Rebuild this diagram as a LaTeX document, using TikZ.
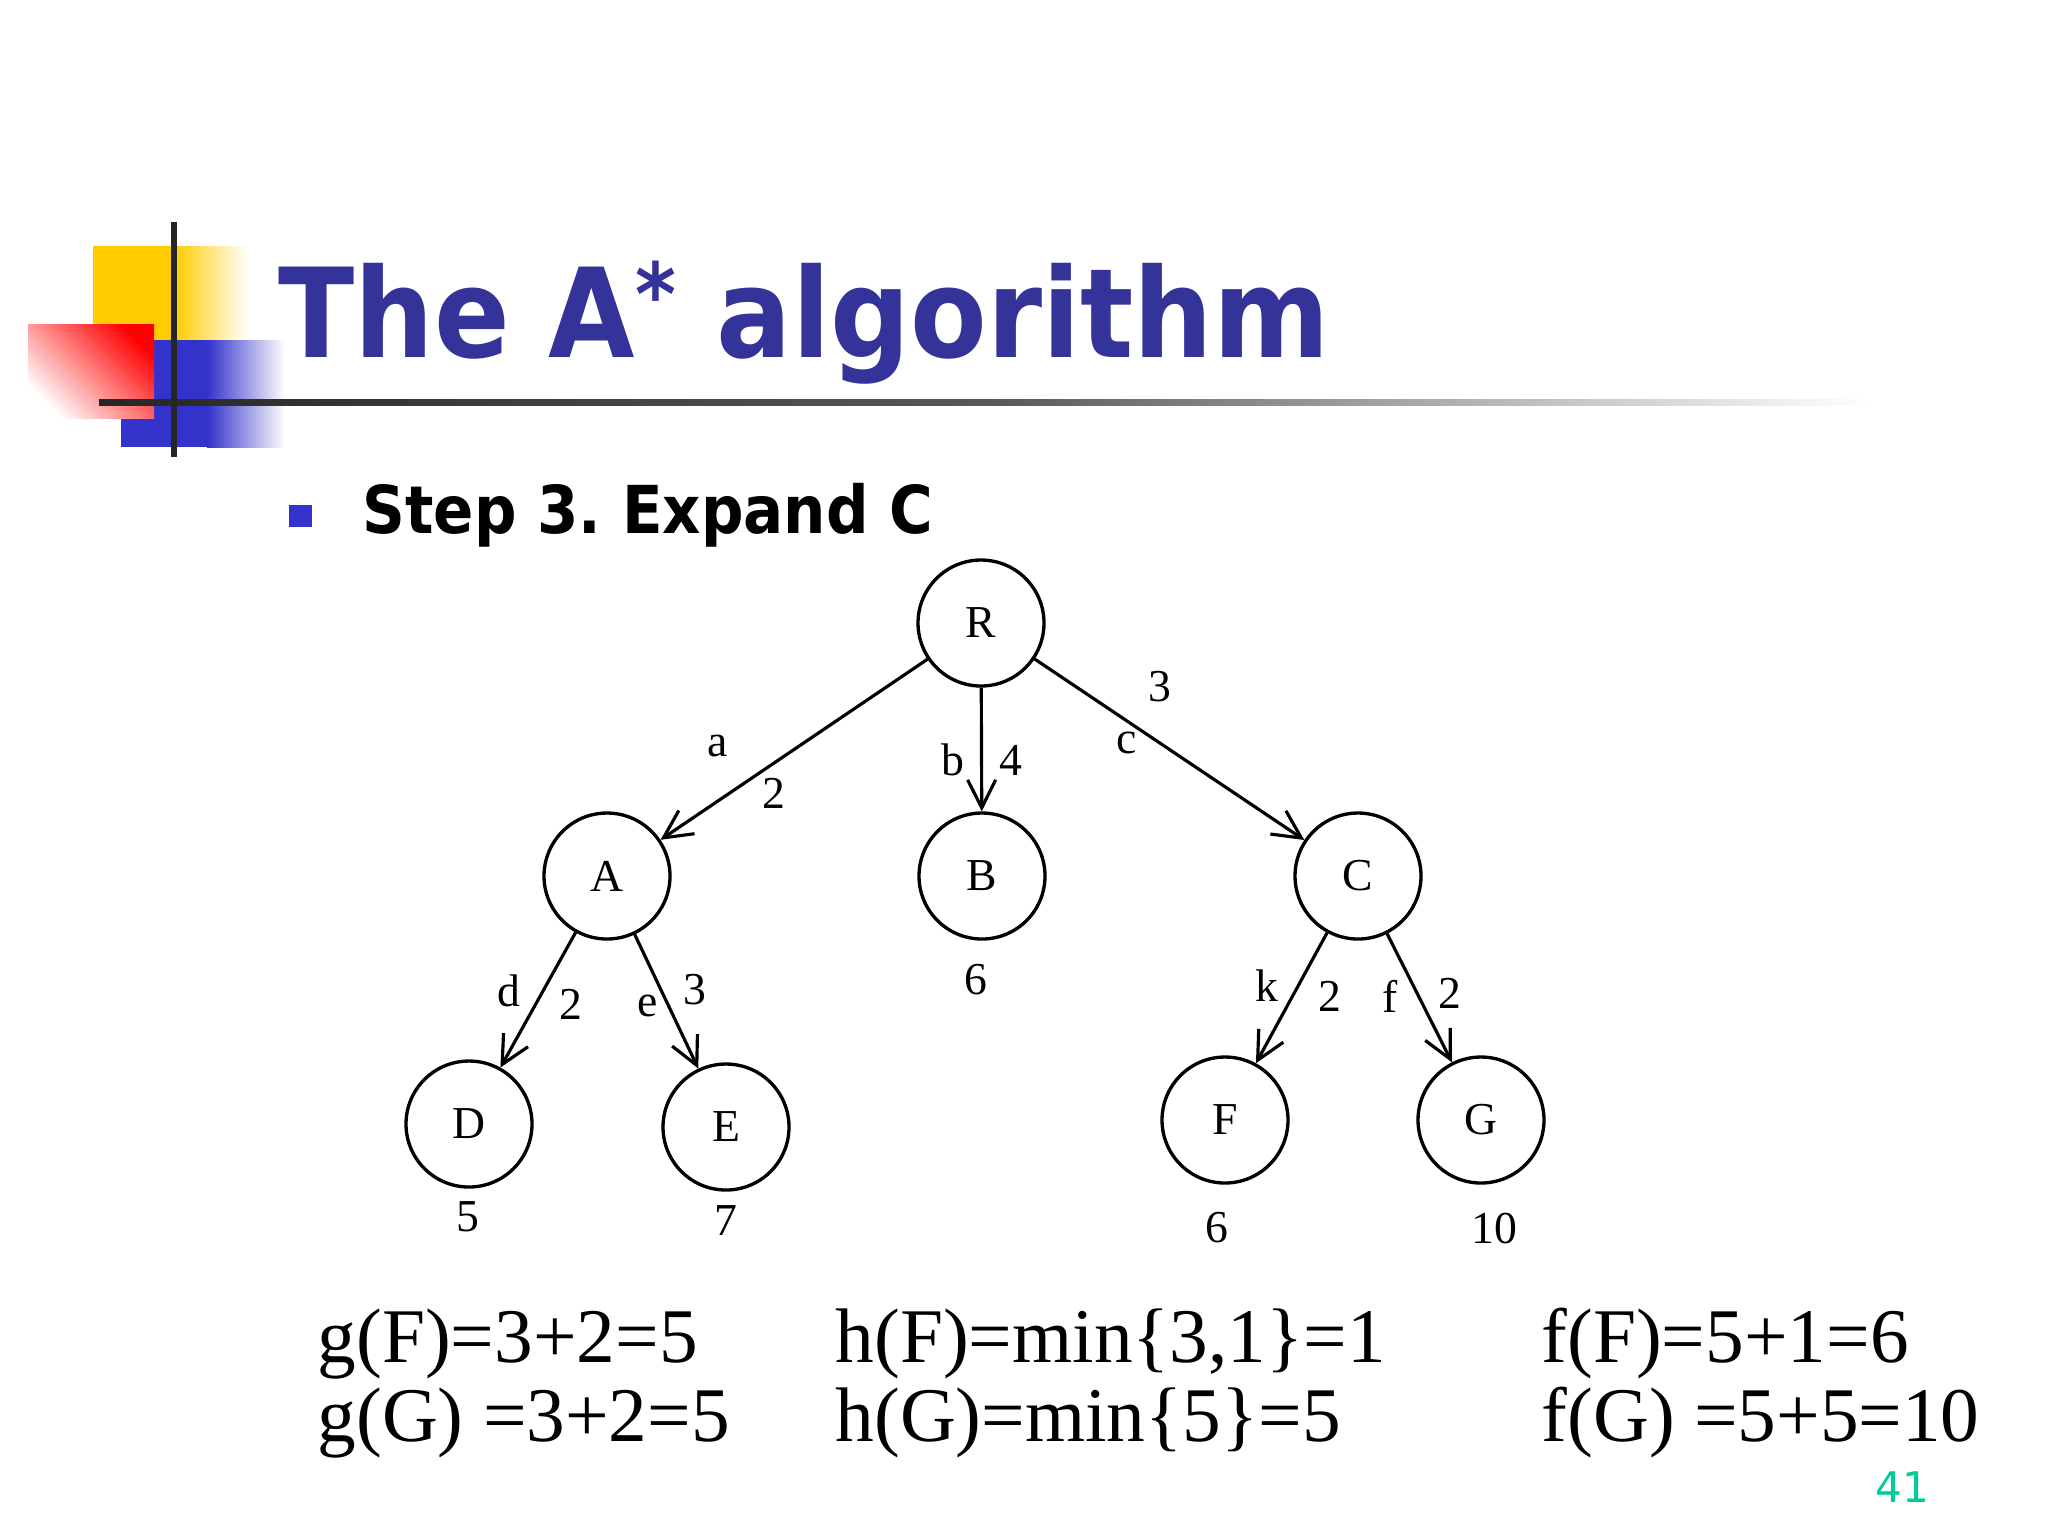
\documentclass[tikz,border=0pt]{standalone}
\usepackage{fontspec}
\setmainfont{Liberation Serif}
\newfontfamily\headfont[FakeStretch=0.9]{DejaVu Sans}
\newfontfamily\pagefont{DejaVu Sans}
\usetikzlibrary{arrows.meta}
\definecolor{titleblue}{RGB}{51, 51, 153}
\definecolor{logoblue}{RGB}{51, 51, 204}
\definecolor{logoyellow}{RGB}{255, 204, 0}
\definecolor{pagegreen}{RGB}{0, 204, 153}
\frenchspacing

\begin{document}
\begin{tikzpicture}[x=0.1mm, y=-0.1mm,
  state/.style={draw, circle, line width=0.95pt, minimum size=12.6mm, inner sep=0pt, font=\fontsize{13}{15}\selectfont},
  link/.style={line width=0.9pt, -{Straight Barb[length=2.8mm, width=2.8mm]}},
  lbl/.style={inner sep=0pt, font=\fontsize{13}{15}\selectfont},
  calc/.style={anchor=base west, inner sep=0pt, font=\fontsize{22}{26}\selectfont}]
  \useasboundingbox[fill=white] (0,0) rectangle (2048,1536);

  % logo
  \fill[logoyellow] (93,246) rectangle (174,340);
  \shade[left color=logoyellow, right color=white] (174,246) rectangle (248,340);
  \fill[logoblue] (121,340) rectangle (207,447);
  \shade[left color=logoblue, right color=white] (207,340) rectangle (285,447);
  \shade[top color=red, middle color=red!45, bottom color=white, shading angle=-45] (28,324) rectangle (154,418);
  \shade[left color=black!85, right color=black!65] (99,399) rectangle (1000,405);
  \shade[left color=black!65, right color=white] (1000,399) rectangle (1870,405);
  \fill[black!85] (171,222) rectangle (177,457);

  % title and bullet
  \node[anchor=base west, inner sep=0pt, text=titleblue, font=\headfont\bfseries\fontsize{35.3}{40}\selectfont] (title) at (278,357) {The A\textsuperscript{*} algorithm};
  \fill[logoblue] (289,505) rectangle (312,527);
  \node[anchor=base west, inner sep=0pt, font=\headfont\bfseries\fontsize{18.8}{22}\selectfont] (step) at (362,533) {Step 3. Expand C};

  % search tree
  \node[state] (R) at (981,623) {R};
  \node[state] (A) at (607,876) {A};
  \node[state] (B) at (982,876) {B};
  \node[state] (C) at (1358,876) {C};
  \node[state] (D) at (469,1124) {D};
  \node[state] (E) at (726,1127) {E};
  \node[state] (F) at (1225,1120) {F};
  \node[state] (G) at (1481,1120) {G};

  \draw[link] (R) -- (A);
  \draw[link] (R) -- (B);
  \draw[link] (R) -- (C);
  \draw[link] (A) -- (D);
  \draw[link] (A) -- (E);
  \draw[link] (C) -- (F);
  \draw[link] (C) -- (G);

  % edge names and costs
  \node[lbl] (la) at (718,746) {a};
  \node[lbl] (ca) at (774,793) {2};
  \node[lbl] (lb) at (953,760) {b};
  \node[lbl] (cb) at (1011,760) {4};
  \node[lbl] (lc) at (1127,743) {c};
  \node[lbl] (cc) at (1160,687) {3};
  \node[lbl] (ld) at (509,991) {d};
  \node[lbl] (cd) at (571,1004) {2};
  \node[lbl] (le) at (648,1006) {e};
  \node[lbl] (ce) at (695,990) {3};
  \node[lbl] (lk) at (1267,986) {k};
  \node[lbl] (ck) at (1330,996) {2};
  \node[lbl] (lf) at (1390,996) {f};
  \node[lbl] (cf) at (1450,993) {2};

  % f values
  \node[lbl] (vB) at (976,980) {6};
  \node[lbl] (vD) at (468,1217) {5};
  \node[lbl] (vE) at (726,1221) {7};
  \node[lbl] (vF) at (1217,1228) {6};
  \node[lbl] (vG) at (1494,1228) {10};

  % calculations
  \node[calc] (gF) at (317,1362) {g(F)=3+2=5};
  \node[calc] (gG) at (317,1441) {g(G) =3+2=5};
  \node[calc] (hF) at (835,1362) {h(F)=min\{3,1\}=1};
  \node[calc] (hG) at (835,1441) {h(G)=min\{5\}=5};
  \node[calc] (fF) at (1541,1362) {f(F)=5+1=6};
  \node[calc] (fG) at (1541,1441) {f(G) =5+5=10};

  \node[text=pagegreen, inner sep=0pt, font=\pagefont\fontsize{12}{14}\selectfont] (pageno) at (1902,1487) {41};
\end{tikzpicture}
\end{document}
